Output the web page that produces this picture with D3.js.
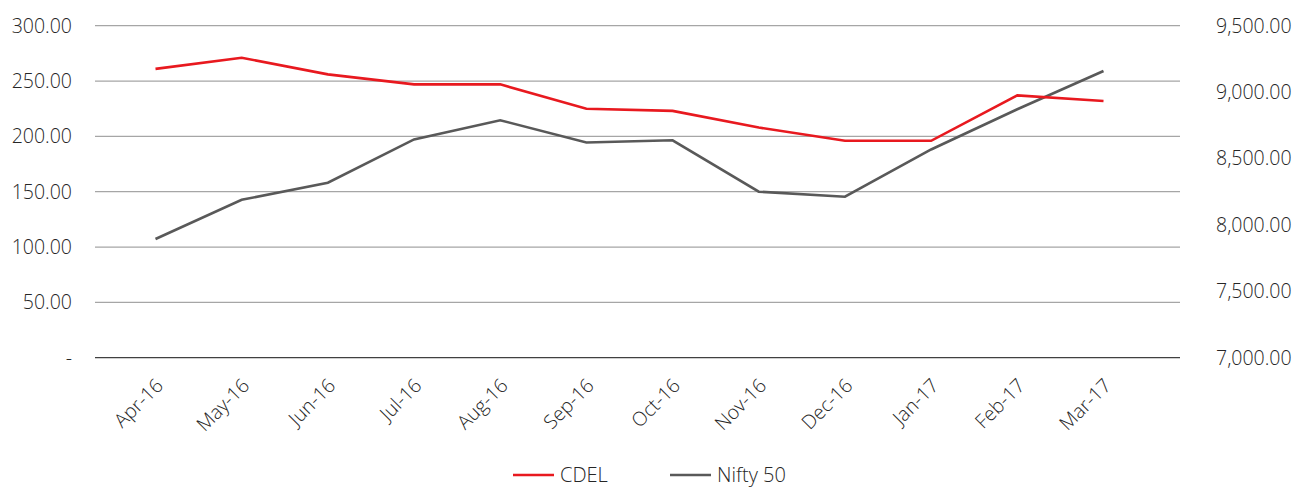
<!DOCTYPE html>
<html>
<head>
<meta charset="utf-8">
<title>CDEL vs Nifty 50</title>
<script src="https://d3js.org/d3.v7.min.js"></script>
<style>
  body { margin: 0; background: #fff; font-family: "Open Sans", "Segoe UI", sans-serif; }
  text { fill: #262626; font-weight: 300; }
</style>
</head>
<body>
<div id="chart"></div>
<script>
// data
const months = ["Apr-16", "May-16", "Jun-16", "Jul-16", "Aug-16", "Sep-16",
                "Oct-16", "Nov-16", "Dec-16", "Jan-17", "Feb-17", "Mar-17"];
const cdel = [261, 271, 256, 247, 247, 225, 223, 208, 196, 196, 237, 232];
const nifty = [7894, 8189, 8318, 8644, 8788, 8621, 8637, 8250, 8212, 8568, 8871, 9159];
const leftTicks = [0, 50, 100, 150, 200, 250, 300];
const rightTicks = [7000, 7500, 8000, 8500, 9000, 9500];

const width = 1298, height = 487;
const svg = d3.select("#chart").append("svg")
  .attr("width", width).attr("height", height);

const x = d3.scalePoint().domain(months).range([155.5, 1103.5]);
const yL = d3.scaleLinear().domain([0, 300]).range([357.7, 25.7]);
const yR = d3.scaleLinear().domain([7000, 9500]).range([357.7, 25.7]);

// gridlines
svg.append("g").selectAll("line").data(leftTicks).join("line")
  .attr("x1", 95).attr("x2", 1180)
  .attr("y1", d => yL(d)).attr("y2", d => yL(d))
  .attr("stroke", d => d === 0 ? "#404040" : "#a6a6a6")
  .attr("stroke-width", d => d === 0 ? 1.3 : 1.2);

// left labels
const fmtL = d3.format(",.2f");
svg.append("g").selectAll("text").data(leftTicks).join("text")
  .attr("x", 72).attr("y", d => yL(d))
  .attr("dy", "0.35em").attr("text-anchor", "end")
  .style("font-size", "19.5px")
  .text(d => d === 0 ? "-" : fmtL(d));

// right labels
svg.append("g").selectAll("text").data(rightTicks).join("text")
  .attr("x", 1216).attr("y", d => yR(d))
  .attr("dy", "0.35em").attr("text-anchor", "start")
  .style("font-size", "19.5px")
  .text(d => fmtL(d));

// month labels
svg.append("g").selectAll("text").data(months).join("text")
  .attr("transform", d => `translate(${x(d) + 4},${382}) rotate(-45)`)
  .attr("text-anchor", "end")
  .attr("dy", "0.35em")
  .style("font-size", "19.5px")
  .text(d => d);

// lines
const lineL = d3.line().x((d, i) => x(months[i])).y(d => yL(d));
const lineR = d3.line().x((d, i) => x(months[i])).y(d => yR(d));

svg.append("path").datum(nifty)
  .attr("d", lineR).attr("fill", "none")
  .attr("stroke", "#595959").attr("stroke-width", 2.6);

svg.append("path").datum(cdel)
  .attr("d", lineL).attr("fill", "none")
  .attr("stroke", "#e8191f").attr("stroke-width", 2.6);

// legend
const legend = [
  { name: "CDEL", color: "#e8191f", x: 513 },
  { name: "Nifty 50", color: "#595959", x: 670 }
];
const lg = svg.append("g").selectAll("g").data(legend).join("g")
  .attr("transform", d => `translate(${d.x},475)`);
lg.append("line").attr("x1", 0).attr("x2", 41)
  .attr("stroke", d => d.color).attr("stroke-width", 2.6);
lg.append("text").attr("x", 47).attr("dy", "0.35em")
  .style("font-size", "20px").text(d => d.name);
</script>
</body>
</html>
